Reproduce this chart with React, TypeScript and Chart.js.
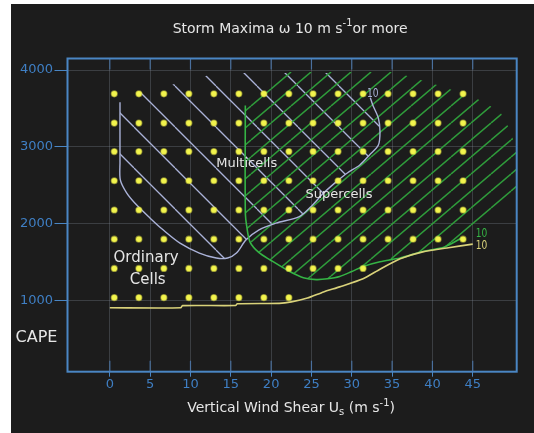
import React, { useEffect, useRef } from 'react';
import { Chart, registerables } from 'chart.js';

Chart.register(...registerables);

// ---- axis ticks ----
const xTickValues = [0, 5, 10, 15, 20, 25, 30, 35, 40, 45];
const yTickValues = [1000, 2000, 3000, 4000];

// ---- dot grid (model runs) ----
const dotX = [0.55, 3.6, 6.7, 9.8, 12.9, 16.0, 19.1, 22.2, 25.2, 28.3, 31.4, 34.5, 37.6, 40.7, 43.8];
const dotRowY = [1040, 1420, 1800, 2180, 2560, 2940, 3310, 3690];
const dotRowCount = [8, 11, 15, 15, 15, 15, 15, 15];

// ---- yellow contour (lower limit) ----
const yellowX = [0, 8.8, 9.0, 15.6, 15.8, 21, 22.5, 24.5, 26.5, 28.5, 31.4, 33.5, 36, 38.8, 42, 45];
const yellowY = [908, 908, 936, 938, 960, 966, 985, 1035, 1115, 1180, 1285, 1410, 1545, 1635, 1690, 1736];

// ---- green contour (supercell boundary) ----
const greenX = [16.8, 16.8, 17.0, 17.4, 18.5, 19.9, 22.3, 24, 25.6, 27, 28.5, 30, 31.4, 33.5, 36, 38.8, 41.5, 43.6];
const greenY = [3540, 2150, 1950, 1760, 1625, 1530, 1380, 1300, 1275, 1285, 1315, 1380, 1445, 1507, 1555, 1640, 1700, 1815];

// ---- outer edge of supercell hatching (from curve end round to top-left) ----
const superEdgeX = [45, 47.5, 50.4, 50.4, 49.5, 48.5, 47, 45.4, 41.3, 36.5, 35, 21.9, 17.2];
const superEdgeY = [1870, 2100, 2400, 2983, 3243, 3438, 3545, 3632, 3783, 3935, 3975, 3975, 3545];

// ---- lavender contour (multicell boundary) ----
const multiX = [1.26, 1.26, 1.3, 2.1, 3.3, 5.0, 6.6, 8.7, 11.1, 13.2, 14.6, 15.7, 16.9, 18.5, 20.6, 23.5, 25, 26.5, 28.1, 29.4, 31, 32.2, 33.3, 33.5, 33.3, 32.6, 32.3];
const multiY = [3582, 2800, 2571, 2399, 2247, 2074, 1922, 1749, 1620, 1555, 1555, 1620, 1792, 1922, 2009, 2095, 2230, 2400, 2549, 2658, 2766, 2896, 3026, 3199, 3373, 3545, 3640];

// ---- top edge of multicell hatching (right to left) ----
const multiTopX = [28.8, 13.5, 12.7, 8.3, 3.7];
const multiTopY = [3960, 3960, 3945, 3826, 3714];

// ---- annotations ----
const labelText = ['Multicells', 'Supercells', 'Ordinary', 'Cells'];
const labelX = [16.97, 28.42, 4.5, 4.7];
const labelY = [2787, 2375, 1555, 1273];

const contourText = ['10', '10', '10'];
const contourX = [32.6, 46.1, 46.1];
const contourY = [3697, 1876, 1711];

const yAxisName = 'CAPE';
const yAxisNameX = -9.09;
const yAxisNameY = 515;

const titleRuns = [
  { t: 'Storm Maxima ω 10 m s', s: 0 },
  { t: '-1', s: 1 },
  { t: 'or more', s: 0 },
];
const xTitleRuns = [
  { t: 'Vertical Wind Shear U', s: 0 },
  { t: 's', s: -1 },
  { t: ' (m s', s: 0 },
  { t: '-1', s: 1 },
  { t: ')', s: 0 },
];

const FONT = '"DejaVu Sans", Verdana, sans-serif';
const BLUE_FRAME = '#4a86c4';
const BLUE_TEXT = '#3f7fc4';
const LAVENDER = '#aab2d8';
const GREEN = '#2f9c3b';
const GREEN_LINE = '#35b445';
const YELLOW_LINE = '#d9d27a';
const WHITE = '#e6e6e6';

function zip(xs: number[], ys: number[]) {
  return xs.map((x, i) => ({ x, y: ys[i] }));
}

function hatch(w: number, h: number, color: string, lw: number, up: boolean) {
  const c = document.createElement('canvas');
  c.width = w;
  c.height = h;
  const g = c.getContext('2d')!;
  g.strokeStyle = color;
  g.lineWidth = lw;
  for (const k of [-1, 0, 1]) {
    g.beginPath();
    if (up) {
      g.moveTo(0, h + k * h);
      g.lineTo(w, k * h);
    } else {
      g.moveTo(0, k * h);
      g.lineTo(w, h + k * h);
    }
    g.stroke();
  }
  return g.createPattern(c, 'repeat')!;
}

function drawRuns(ctx: CanvasRenderingContext2D, runs: { t: string; s: number }[], cx: number, cy: number, size: number, color: string) {
  const big = `${size}px ${FONT}`;
  const small = `${Math.round(size * 0.72)}px ${FONT}`;
  let total = 0;
  const widths = runs.map((r) => {
    ctx.font = r.s === 0 ? big : small;
    const w = ctx.measureText(r.t).width;
    total += w;
    return w;
  });
  let x = cx - total / 2;
  ctx.fillStyle = color;
  ctx.textBaseline = 'middle';
  ctx.textAlign = 'left';
  runs.forEach((r, i) => {
    ctx.font = r.s === 0 ? big : small;
    const dy = r.s === 1 ? -size * 0.38 : r.s === -1 ? size * 0.3 : 0;
    ctx.fillText(r.t, x, cy + dy);
    x += widths[i];
  });
}

const decorPlugin = {
  id: 'decor',
  afterDatasetsDraw(chart: any) {
    const { ctx, chartArea: a, scales } = chart;
    const xs = scales.x;
    const ys = scales.y;
    ctx.save();
    // frame
    ctx.strokeStyle = BLUE_FRAME;
    ctx.lineWidth = 2;
    ctx.strokeRect(a.left, a.top, a.right - a.left, a.bottom - a.top);
    // inner ticks at top and bottom
    ctx.strokeStyle = 'rgba(80,130,190,0.75)';
    ctx.lineWidth = 1.2;
    xTickValues.forEach((v) => {
      const px = xs.getPixelForValue(v);
      ctx.beginPath();
      ctx.moveTo(px, a.top);
      ctx.lineTo(px, a.top + 11);
      ctx.moveTo(px, a.bottom);
      ctx.lineTo(px, a.bottom - 11);
      ctx.stroke();
    });
    // region labels
    ctx.textAlign = 'center';
    ctx.textBaseline = 'middle';
    ctx.fillStyle = WHITE;
    labelText.forEach((t, i) => {
      ctx.font = `${i < 2 ? 13 : 15}px ${FONT}`;
      ctx.fillText(t, xs.getPixelForValue(labelX[i]), ys.getPixelForValue(labelY[i]));
    });
    // contour labels
    const cColors = [LAVENDER, GREEN_LINE, YELLOW_LINE];
    contourText.forEach((t, i) => {
      ctx.save();
      ctx.translate(xs.getPixelForValue(contourX[i]), ys.getPixelForValue(contourY[i]));
      ctx.scale(0.7, 1);
      ctx.font = `13px ${FONT}`;
      ctx.fillStyle = cColors[i];
      ctx.fillText(t, 0, 0);
      ctx.restore();
    });
    // y axis name
    ctx.font = `16px ${FONT}`;
    ctx.fillStyle = WHITE;
    ctx.fillText(yAxisName, xs.getPixelForValue(yAxisNameX), ys.getPixelForValue(yAxisNameY));
    // titles
    const mid = (a.left + a.right) / 2;
    drawRuns(ctx, titleRuns, mid - 2, 25, 14, WHITE);
    drawRuns(ctx, xTitleRuns, mid - 1, 404.5, 14, WHITE);
    ctx.restore();
  },
};

export default function App() {
  const ref = useRef<HTMLCanvasElement | null>(null);

  useEffect(() => {
    if (!ref.current) return;
    const lavPattern = hatch(41, 41, LAVENDER, 1.3, false);
    const greenPattern = hatch(20, 17, GREEN, 1.5, true);

    const dots: { x: number; y: number }[] = [];
    dotRowY.forEach((y, r) => {
      for (let i = 0; i < dotRowCount[r]; i++) dots.push({ x: dotX[i], y });
    });

    const multiPoly = zip(multiX, multiY).concat(zip(multiTopX, multiTopY));
    const superPoly = zip(greenX, greenY).concat(zip(superEdgeX, superEdgeY));

    const chart = new Chart(ref.current, {
      type: 'scatter',
      data: {
        datasets: [
          {
            label: 'runs',
            data: dots,
            pointRadius: 2.8,
            pointBackgroundColor: '#f2f44e',
            pointBorderColor: 'rgba(235,235,70,0.5)',
            pointBorderWidth: 1.6,
            showLine: false,
          },
          {
            label: 'yellow',
            data: zip(yellowX, yellowY),
            showLine: true,
            borderColor: YELLOW_LINE,
            borderWidth: 1.6,
            pointRadius: 0,
            tension: 0.2,
            fill: false,
          },
          {
            label: 'green',
            data: zip(greenX, greenY),
            showLine: true,
            borderColor: GREEN_LINE,
            borderWidth: 1.6,
            pointRadius: 0,
            tension: 0.3,
            fill: false,
          },
          {
            label: 'lavender',
            data: zip(multiX, multiY),
            showLine: true,
            borderColor: LAVENDER,
            borderWidth: 1.4,
            pointRadius: 0,
            tension: 0.3,
            fill: false,
          },
          {
            label: 'superHatch',
            data: superPoly,
            showLine: true,
            borderColor: 'transparent',
            borderWidth: 0,
            pointRadius: 0,
            backgroundColor: greenPattern as any,
            fill: 'shape' as any,
            tension: 0,
          },
          {
            label: 'multiHatch',
            data: multiPoly,
            showLine: true,
            borderColor: 'transparent',
            borderWidth: 0,
            pointRadius: 0,
            backgroundColor: lavPattern as any,
            fill: 'shape' as any,
            tension: 0,
          },
        ],
      },
      options: {
        animation: false,
        responsive: true,
        maintainAspectRatio: false,
        events: [],
        layout: { padding: { left: 0, right: 17.3, top: 54.5, bottom: 0 } },
        plugins: {
          legend: { display: false },
          tooltip: { enabled: false },
          title: { display: false },
        },
        scales: {
          x: {
            type: 'linear',
            min: -5.25,
            max: 50.45,
            afterBuildTicks: (s: any) => {
              s.ticks = xTickValues.map((v) => ({ value: v }));
            },
            afterFit: (s: any) => {
              s.height = 61.3;
            },
            grid: {
              color: 'rgba(140,150,165,0.28)',
              lineWidth: 1,
              tickLength: 5,
              tickColor: BLUE_FRAME,
              drawTicks: true,
            },
            border: { display: false },
            ticks: {
              color: BLUE_TEXT,
              font: { family: FONT, size: 13, lineHeight: 1 },
              padding: 1,
              autoSkip: false,
              maxRotation: 0,
              callback: (v: any) => String(v),
            },
          },
          y: {
            type: 'linear',
            min: 77,
            max: 4150,
            afterBuildTicks: (s: any) => {
              s.ticks = yTickValues.map((v) => ({ value: v }));
            },
            afterFit: (s: any) => {
              s.width = 56.5;
            },
            grid: {
              color: 'rgba(140,150,165,0.28)',
              lineWidth: 1,
              tickLength: 13,
              tickColor: BLUE_FRAME,
              drawTicks: true,
            },
            border: { display: false },
            ticks: {
              color: BLUE_TEXT,
              font: { family: FONT, size: 13, lineHeight: 1 },
              padding: 1.5,
              autoSkip: false,
              callback: (v: any) => String(v),
            },
          },
        },
      },
      plugins: [decorPlugin],
    });
    return () => chart.destroy();
  }, []);

  return (
    <div
      style={{
        position: 'fixed',
        left: 11,
        top: 4,
        width: 523,
        height: 429,
        background: '#1c1c1c',
      }}
    >
      <canvas ref={ref} />
    </div>
  );
}
